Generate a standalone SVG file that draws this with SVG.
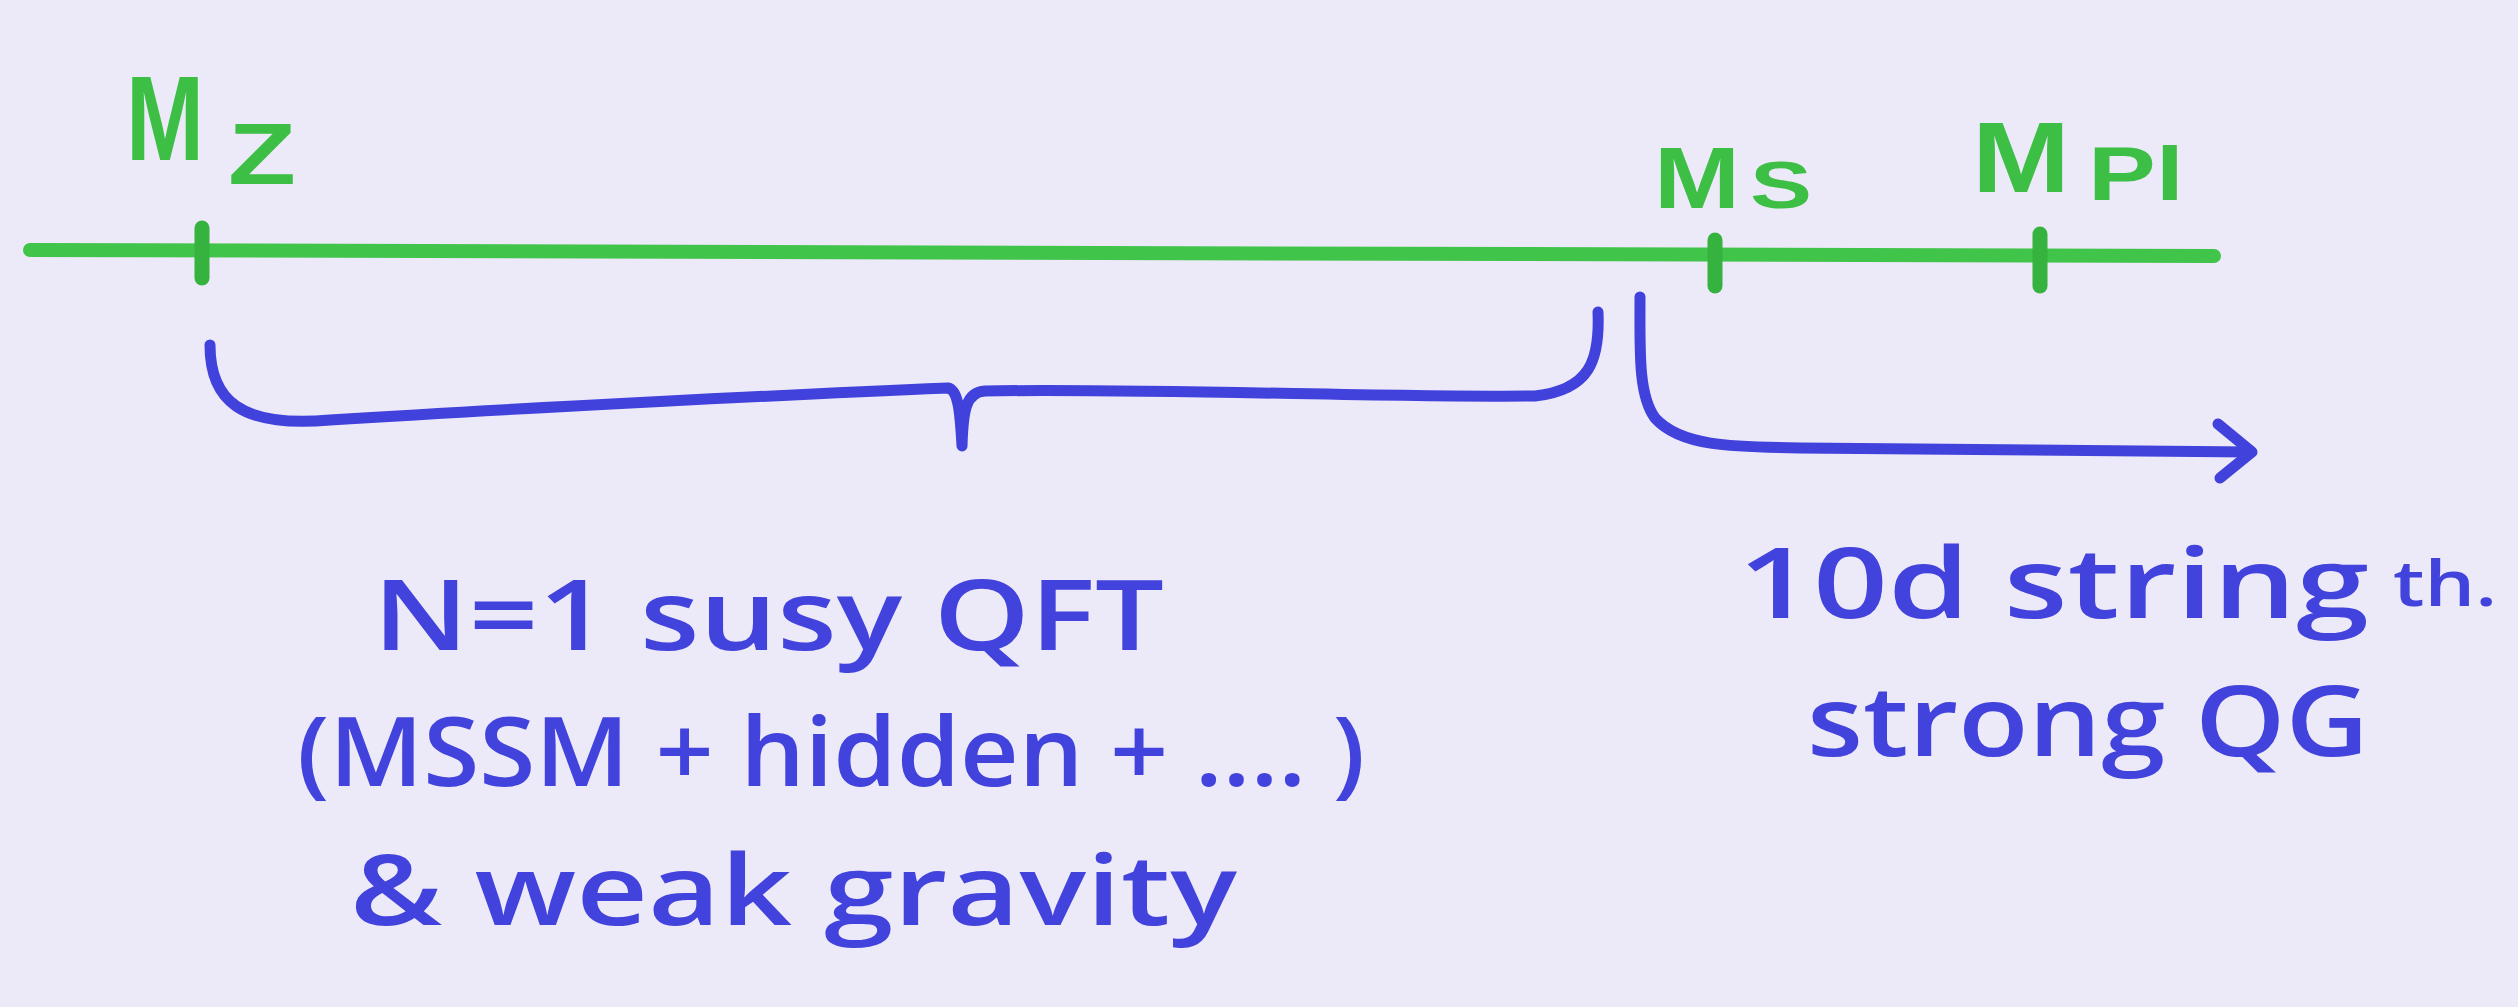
<svg xmlns="http://www.w3.org/2000/svg" width="2518" height="1007" viewBox="0 0 2518 1007">
  <defs>
    <style>
      .g { fill: #3cbf44; font-family: "Liberation Sans", Arial, sans-serif; font-weight: bold; }
      .b { fill: #4242dc; font-family: "Open Sans", "Liberation Sans", sans-serif; font-weight: 600; }
      .axis { stroke: #41c44a; stroke-width: 14; stroke-linecap: round; fill: none; }
      .tick { stroke: #36b23f; stroke-width: 15; stroke-linecap: round; fill: none; }
      .ink { stroke: #4141dc; stroke-width: 11; stroke-linecap: round; stroke-linejoin: round; fill: none; }
    </style>
  </defs>
  <rect width="2518" height="1007" fill="#ece9f9"/>

  <g id="axis">
    <path class="axis" d="M 30 250 L 2214 256"/>
    <path class="tick" d="M 202 228 L 202 278"/>
    <path class="tick" d="M 1715 240 L 1715 286"/>
    <path class="tick" d="M 2040 234 L 2040 286"/>
  </g>

  <g id="label-mz">
    <text class="g" x="126" y="160" font-size="120" textLength="78" lengthAdjust="spacingAndGlyphs">M</text>
    <text class="g" x="228" y="184" font-size="88" textLength="68" lengthAdjust="spacingAndGlyphs">Z</text>
  </g>
  <g id="label-ms">
    <text class="g" x="1654" y="208" font-size="88" textLength="86" lengthAdjust="spacingAndGlyphs">M</text>
    <text class="g" x="1750" y="208" font-size="66" textLength="62" lengthAdjust="spacingAndGlyphs">S</text>
  </g>
  <g id="label-mpl">
    <text class="g" x="1972" y="192" font-size="100" textLength="98" lengthAdjust="spacingAndGlyphs">M</text>
    <text class="g" x="2088" y="200" font-size="76" textLength="96" lengthAdjust="spacingAndGlyphs">Pl</text>
  </g>

  <g id="connectors">
    <path id="brace" class="ink" d="M 210 345 C 210 400, 240 428, 330 420 C 520 408, 800 394, 948 388 C 958 390, 960 410, 962 446 C 963 410, 966 392, 985 391 C 1150 388, 1400 398, 1535 396 C 1590 390, 1600 360, 1598 312"/>
    <path id="arrow" class="ink" d="M 1640 297 C 1640 350, 1638 395, 1655 418 C 1680 446, 1730 447, 1800 448 L 2250 452"/>
    <path class="ink" d="M 2218 424 L 2252 452 L 2220 478"/>
  </g>

  <g id="text-left">
    <text class="b" x="373" y="650" font-size="98" textLength="791" lengthAdjust="spacingAndGlyphs">N=1 susy QFT</text>
    <text class="b" x="297" y="786" font-size="96" textLength="1068" lengthAdjust="spacingAndGlyphs">(MSSM + hidden + .... )</text>
    <text class="b" x="350" y="925" font-size="98" textLength="887" lengthAdjust="spacingAndGlyphs">&amp; weak gravity</text>
  </g>
  <g id="text-right">
    <text class="b" x="1738" y="618" font-size="98" textLength="631" lengthAdjust="spacingAndGlyphs">10d string</text>
    <text class="b" x="2393" y="606" font-size="64" textLength="104" lengthAdjust="spacingAndGlyphs">th.</text>
    <text class="b" x="1807" y="756" font-size="98" textLength="562" lengthAdjust="spacingAndGlyphs">strong QG</text>
  </g>
</svg>
